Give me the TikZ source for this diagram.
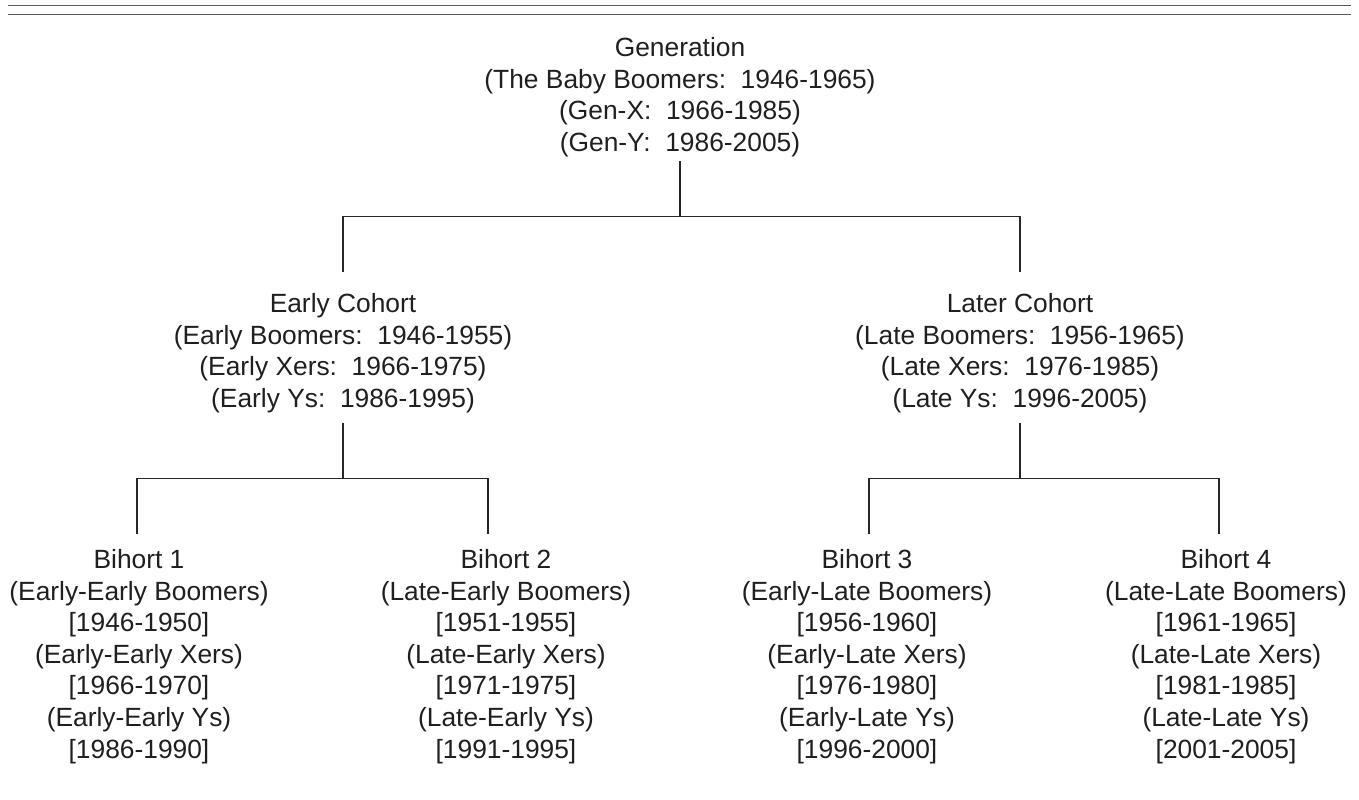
\documentclass[tikz,border=0pt]{standalone}
\usepackage{fontspec}
\setmainfont{Liberation Sans}
\begin{document}
\begin{tikzpicture}[x=0.02cm, y=-0.02cm,
        box/.style={anchor=north, align=center, inner sep=0pt, text=black!88, font=\fontsize{15}{18}\selectfont},
        tree/.style={draw=black!85, line width=0.6pt},
        rule/.style={draw=black!65, line width=0.8pt}]
    \useasboundingbox (0,0) rectangle (1359,800);
    % double rule along the top
    \foreach \y in {5.5,14.8}
        \draw[rule] (8,\y) -- (1351,\y);
    % generation and its two cohorts
    \node[box] (gen) at (680,37) {Generation\\(The Baby Boomers:\ \ 1946-1965)\\(Gen-X:\ \ 1966-1985)\\(Gen-Y:\ \ 1986-2005)};
    \node[box] (early) at (343,293) {Early Cohort\\(Early Boomers:\ \ 1946-1955)\\(Early Xers:\ \ 1966-1975)\\(Early Ys:\ \ 1986-1995)};
    \node[box] (late) at (1020,293) {Later Cohort\\(Late Boomers:\ \ 1956-1965)\\(Late Xers:\ \ 1976-1985)\\(Late Ys:\ \ 1996-2005)};
    % bihorts
    \foreach \n/\x/\a/\b/\c/\d/\e/\f in {
        1/139/Early-Early Boomers/1946-1950/Early-Early Xers/1966-1970/Early-Early Ys/1986-1990,
        2/506/Late-Early Boomers/1951-1955/Late-Early Xers/1971-1975/Late-Early Ys/1991-1995,
        3/867/Early-Late Boomers/1956-1960/Early-Late Xers/1976-1980/Early-Late Ys/1996-2000,
        4/1226/Late-Late Boomers/1961-1965/Late-Late Xers/1981-1985/Late-Late Ys/2001-2005%
    } {
        \node[box] (bih\n) at (\x,549) {Bihort \n\\(\a)\\{[\b]}\\(\c)\\{[\d]}\\(\e)\\{[\f]}};
    }
    % tree lines
    \draw[tree] (gen.south) ++(0,4) -- ++(0,55) coordinate (genbus);
    \draw[tree] ([yshift=0.42cm]early.north) |- (genbus) -| ([yshift=0.42cm]late.north);
    \draw[tree] (early.south) ++(0,9.5) -- ++(0,56) coordinate (earlybus);
    \draw[tree] ([xshift=-0.04cm,yshift=0.3cm]bih1.north) |- (earlybus) -| ([xshift=-0.36cm,yshift=0.3cm]bih2.north);
    \draw[tree] (late.south) ++(0,9.5) -- ++(0,56) coordinate (latebus);
    \draw[tree] ([xshift=0.04cm,yshift=0.3cm]bih3.north) |- (latebus) -| ([xshift=-0.14cm,yshift=0.3cm]bih4.north);
\end{tikzpicture}
\end{document}
